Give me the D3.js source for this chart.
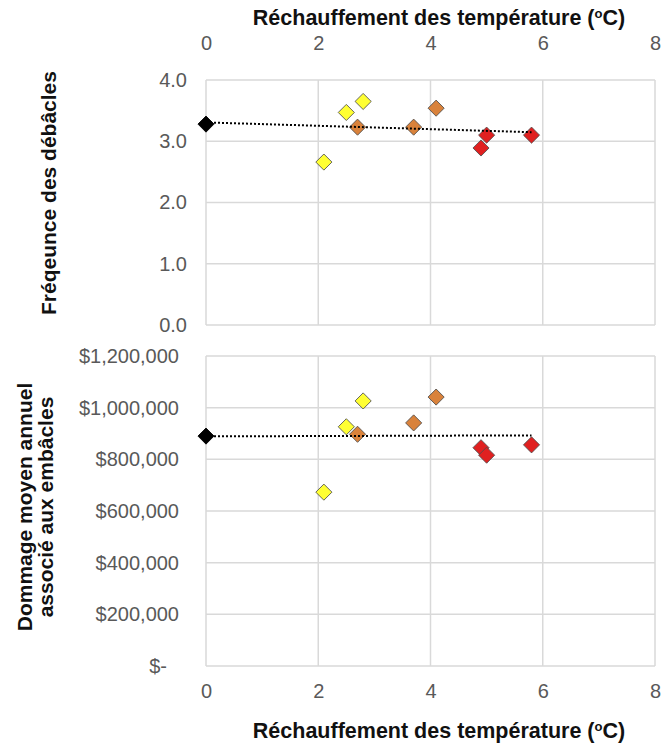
<!DOCTYPE html>
<html>
<head>
<meta charset="utf-8">
<script src="https://cdn.jsdelivr.net/npm/d3@7"></script>
<style>
  body { margin: 0; background: #fff; }
  svg { display: block; font-family: "Liberation Sans", Arial, sans-serif; }
</style>
</head>
<body>
<svg id="chart" width="663" height="748"></svg>
<script>
// warming scenarios (ºC) shared by both panels
const warming = [0, 2.1, 2.5, 2.8, 2.7, 3.7, 4.1, 4.9, 5.0, 5.8];
const groups = ["base", "low", "low", "low", "mid", "mid", "mid", "high", "high", "high"];
const frequency = [3.28, 2.66, 3.47, 3.65, 3.23, 3.23, 3.54, 2.89, 3.10, 3.10];
const damage = [890000, 673000, 926000, 1026000, 897000, 941000, 1041000, 845000, 816000, 856000];

const xTicks = [0, 2, 4, 6, 8];
const freqTicks = [0, 1, 2, 3, 4];
const damageTicks = [0, 200000, 400000, 600000, 800000, 1000000, 1200000];

const groupColor = { base: "#000000", low: "#ffff33", mid: "#d9823b", high: "#e02020" };

const svg = d3.select("#chart");
const x = d3.scaleLinear().domain([0, 8]).range([206, 655]);
const yFreq = d3.scaleLinear().domain([0, 4]).range([325, 80]);
const yDamage = d3.scaleLinear().domain([0, 1200000]).range([666, 356]);

const gridColor = "#d9d9d9";
const tickColor = "#595959";

function fit(xs, ys) {
  // least-squares linear trend
  const mx = d3.mean(xs), my = d3.mean(ys);
  const sxy = d3.sum(xs, (v, i) => (v - mx) * (ys[i] - my));
  const sxx = d3.sum(xs, v => (v - mx) * (v - mx));
  const b = sxy / sxx;
  return v => my + b * (v - mx);
}

function panel(y, ticks, values) {
  const g = svg.append("g");

  g.selectAll(".hgrid").data(ticks).enter().append("line")
    .attr("x1", x(0)).attr("x2", x(8))
    .attr("y1", d => y(d)).attr("y2", d => y(d))
    .attr("stroke", gridColor).attr("stroke-width", 1.5);

  g.selectAll(".vgrid").data(xTicks).enter().append("line")
    .attr("x1", d => x(d)).attr("x2", d => x(d))
    .attr("y1", y.range()[0]).attr("y2", y.range()[1])
    .attr("stroke", gridColor).attr("stroke-width", 1.5);

  const pts = warming.map((w, i) => ({ x: w, y: values[i], g: groups[i] }));
  g.selectAll(".pt").data(pts).enter().append("path")
    .attr("d", d3.symbol(d3.symbolSquare, 130)())
    .attr("transform", d => `translate(${x(d.x)},${y(d.y)}) rotate(45)`)
    .attr("fill", d => groupColor[d.g])
    .attr("stroke", d => d.g === "base" ? "#000" : "#4d4d4d")
    .attr("stroke-width", 0.8);

  const trend = fit(warming, values);
  const x0 = d3.min(warming), x1 = d3.max(warming);
  g.append("line")
    .attr("x1", x(x0)).attr("y1", y(trend(x0)))
    .attr("x2", x(x1)).attr("y2", y(trend(x1)))
    .attr("stroke", "#000").attr("stroke-width", 2)
    .attr("stroke-dasharray", "2,2");

  return g;
}

function styleAxis(g) {
  g.select(".domain").remove();
  g.selectAll("line").remove();
  g.selectAll("text")
    .attr("fill", tickColor)
    .style("font-size", "20px")
    .style("font-family", "'Liberation Sans', Arial, sans-serif");
}

// top panel
panel(yFreq, freqTicks, frequency);
svg.append("g")
  .attr("transform", "translate(0,80)")
  .call(d3.axisTop(x).tickValues(xTicks).tickSize(0).tickPadding(30).tickFormat(d3.format("d")))
  .call(styleAxis);
svg.append("g")
  .attr("transform", "translate(206,0)")
  .call(d3.axisLeft(yFreq).tickValues(freqTicks).tickSize(0).tickPadding(19).tickFormat(d3.format(".1f")))
  .call(styleAxis);

// bottom panel
panel(yDamage, damageTicks, damage);
svg.append("g")
  .attr("transform", "translate(0,666)")
  .call(d3.axisBottom(x).tickValues(xTicks).tickSize(0).tickPadding(18).tickFormat(d3.format("d")))
  .call(styleAxis);
const money = d3.format(",");
svg.append("g")
  .attr("transform", "translate(206,0)")
  .call(d3.axisLeft(yDamage).tickValues(damageTicks).tickSize(0).tickPadding(27)
    .tickFormat(d => d === 0 ? "$-" : "$" + money(d)))
  .call(styleAxis)
  .selectAll("text")
  .filter(d => d === 0)
  .attr("dx", "-12");

// titles
function xTitle(yPos) {
  const t = svg.append("text")
    .attr("x", 439).attr("y", yPos)
    .attr("text-anchor", "middle")
    .style("font-size", "21.5px").style("font-weight", "bold")
    .attr("fill", "#111");
  t.append("tspan").text("Réchauffement des température (");
  t.append("tspan").text("o").style("font-size", "13px").attr("dy", "-7");
  t.append("tspan").text("C)").attr("dy", "7");
}
xTitle(25);
xTitle(738);

svg.append("text")
  .attr("transform", "translate(56,193) rotate(-90)")
  .attr("text-anchor", "middle")
  .style("font-size", "21px").style("font-weight", "bold")
  .attr("fill", "#111")
  .text("Fréqeunce des débâcles");

const damageTitle = svg.append("text")
  .attr("transform", "translate(32,507) rotate(-90)")
  .attr("text-anchor", "middle")
  .style("font-size", "21px").style("font-weight", "bold")
  .attr("fill", "#111");
damageTitle.append("tspan").attr("x", 0).attr("dy", 0).text("Dommage moyen annuel");
damageTitle.append("tspan").attr("x", 0).attr("dy", 21).text("associé aux embâcles");
</script>
</body>
</html>
